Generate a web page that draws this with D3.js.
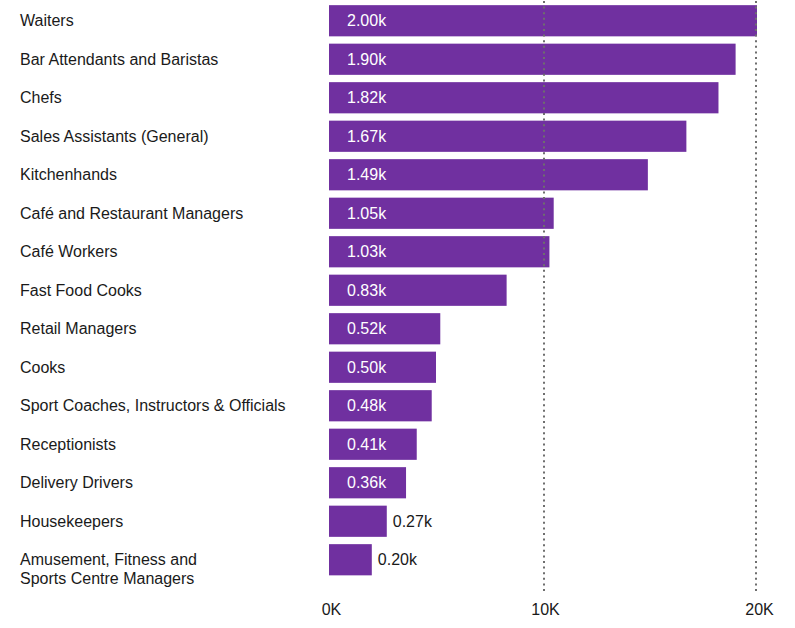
<!DOCTYPE html>
<html>
<head>
<meta charset="utf-8">
<script src="https://cdn.jsdelivr.net/npm/d3@7"></script>
<style>
  html, body { margin: 0; padding: 0; background: #fff; }
  svg { display: block; font-family: "Liberation Sans", Arial, Helvetica, sans-serif; }
</style>
</head>
<body>
<svg id="chart" width="795" height="628"></svg>
<script>
// Occupations (top to bottom) and their counts, in thousands
const categories = [
  "Waiters",
  "Bar Attendants and Baristas",
  "Chefs",
  "Sales Assistants (General)",
  "Kitchenhands",
  "Café and Restaurant Managers",
  "Café Workers",
  "Fast Food Cooks",
  "Retail Managers",
  "Cooks",
  "Sport Coaches, Instructors & Officials",
  "Receptionists",
  "Delivery Drivers",
  "Housekeepers",
  "Amusement, Fitness and\nSports Centre Managers"
];
const values = [2.00, 1.90, 1.82, 1.67, 1.49, 1.05, 1.03, 0.83, 0.52, 0.50, 0.48, 0.41, 0.36, 0.27, 0.20];

// Axis ticks and their labels
const tickValues = [0, 1, 2];
const tickLabels = ["0K", "10K", "20K"];

const svg = d3.select("#chart");
const barColor = "#7030a0";
const textColor = "#1a1a1a";

const x = d3.scaleLinear().domain([0, 2]).range([329, 757]);
const y = d3.scaleBand()
  .domain(categories)
  .range([1.5, 579])
  .paddingInner(0.19)
  .paddingOuter(0.095);

const rows = categories.map((c, i) => ({ cat: c, value: values[i] }));

// Bars
svg.append("g").selectAll("rect")
  .data(rows)
  .join("rect")
  .attr("x", x(0))
  .attr("y", d => y(d.cat))
  .attr("width", d => x(d.value) - x(0))
  .attr("height", y.bandwidth())
  .attr("fill", barColor);

// Dotted gridlines (drawn above the bars)
svg.append("g").selectAll("line")
  .data(tickValues.filter(t => t > 0))
  .join("line")
  .attr("x1", d => Math.round(x(d)) + (d === 1 ? 1 : -1))
  .attr("x2", d => Math.round(x(d)) + (d === 1 ? 1 : -1))
  .attr("y1", 1).attr("y2", 594)
  .attr("stroke", "#6e6e6e")
  .attr("stroke-width", 2)
  .attr("stroke-dasharray", "2,3.6");

// Category labels
const catLabels = svg.append("g").selectAll("text")
  .data(rows)
  .join("text")
  .attr("x", 20)
  .attr("y", d => y(d.cat) + y.bandwidth() / 2)
  .attr("font-size", 16)
  .attr("fill", textColor);
catLabels.each(function(d) {
  const lines = d.cat.split("\n");
  const t = d3.select(this);
  lines.forEach((ln, i) => {
    t.append("tspan")
      .attr("x", 20)
      .attr("dy", i === 0 ? "0.33em" : 19)
      .text(ln);
  });
});

// Value labels: inside the bar when it fits, otherwise just past its end
const fmt = v => d3.format(".2f")(v) + "k";
svg.append("g").selectAll("text")
  .data(rows)
  .join("text")
  .each(function(d) {
    const w = x(d.value) - x(0);
    const inside = w > 70;
    d3.select(this)
      .attr("x", inside ? x(0) + 18 : x(d.value) + 6)
      .attr("fill", inside ? "#ffffff" : textColor);
  })
  .attr("y", d => y(d.cat) + y.bandwidth() / 2)
  .attr("dy", "0.35em")
  .attr("font-size", 16)
  .text(d => fmt(d.value));

// Bottom axis labels
const axis = d3.axisBottom(x)
  .tickValues(tickValues)
  .tickFormat((d, i) => tickLabels[i])
  .tickSize(0)
  .tickPadding(0);
const gAxis = svg.append("g")
  .attr("transform", "translate(2,604)")
  .call(axis);
gAxis.select(".domain").remove();
gAxis.selectAll("text")
  .attr("font-size", 16)
  .attr("font-family", "Liberation Sans, Arial, sans-serif")
  .attr("fill", textColor)
  .attr("dy", "0.71em");
</script>
</body>
</html>
